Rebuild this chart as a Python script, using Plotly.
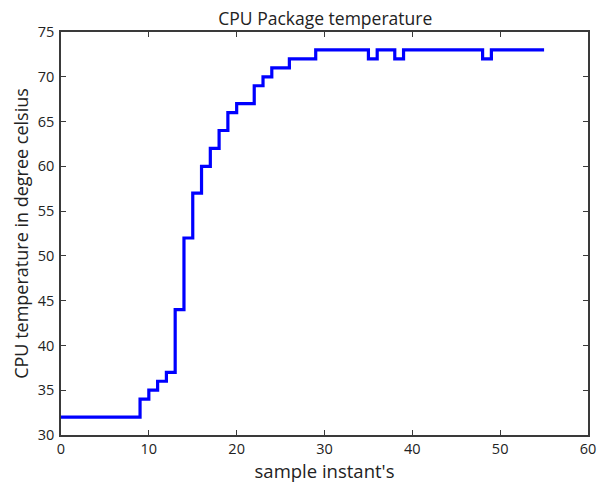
import plotly.graph_objects as go

# CPU package temperature per sample (held until the next sample)
samples = list(range(0, 56))
temps = [
    32, 32, 32, 32, 32, 32, 32, 32, 32,   # 0-8
    34, 35, 36, 37, 44, 52, 57, 60, 62, 64, 66,  # 9-19
    67, 67, 69, 70, 71, 71, 72, 72, 72,   # 20-28
    73, 73, 73, 73, 73, 73,               # 29-34
    72, 73, 73, 72,                       # 35-38
    73, 73, 73, 73, 73, 73, 73, 73, 73,   # 39-47
    72, 73, 73, 73, 73, 73, 73, 73,       # 48-55
]

x_ticks = [0, 10, 20, 30, 40, 50, 60]
y_ticks = [30, 35, 40, 45, 50, 55, 60, 65, 70, 75]

FONT = "Open Sans, DejaVu Sans, sans-serif"
AX = "#3a3a3a"

fig = go.Figure(
    go.Scatter(
        x=samples, y=temps, mode="lines", line_shape="hv",
        line=dict(color="#0000ff", width=3.2),
        hoverinfo="skip",
    )
)

axis_common = dict(
    showgrid=False, zeroline=False,
    showline=True, linecolor=AX, linewidth=1.5, mirror="allticks",
    ticks="inside", ticklen=5, tickwidth=1, tickcolor=AX,
    tickfont=dict(family=FONT, size=14.5, color="#222"),
)

fig.update_layout(
    width=608, height=485,
    margin=dict(l=61, r=17, t=32, b=48),
    paper_bgcolor="white", plot_bgcolor="white",
    showlegend=False,
    title=dict(text="CPU Package temperature", x=0.535, xanchor="center",
               y=0.962, yanchor="middle",
               font=dict(family=FONT, size=17.5, color="#222")),
    xaxis=dict(range=[0, 60], tickvals=x_ticks, ticklabelstandoff=0,
               title=dict(text="sample instant's", standoff=2,
                          font=dict(family=FONT, size=18.5, color="#222")),
               **axis_common),
    yaxis=dict(range=[30, 75], tickvals=y_ticks, ticklabelstandoff=2,
               title=dict(text="CPU temperature in degree celsius", standoff=4,
                          font=dict(family=FONT, size=18, color="#222")),
               **axis_common),
)

fig.write_html("out.html")
